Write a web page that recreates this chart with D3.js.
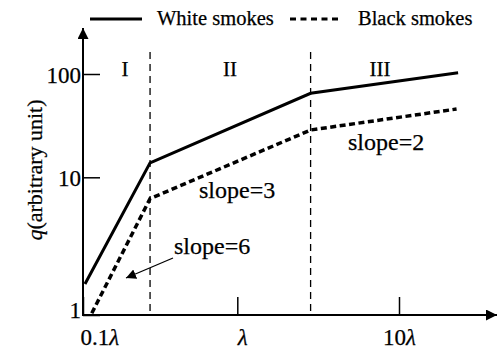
<!DOCTYPE html>
<html>
<head>
<meta charset="utf-8">
<script src="https://cdn.jsdelivr.net/npm/d3@7"></script>
<style>
  body { margin: 0; background: #fff; }
  svg text { font-family: "Liberation Serif", "Times New Roman", serif !important; stroke: #000; stroke-width: 0.25px; }
</style>
</head>
<body>
<svg id="chart" width="497" height="354"></svg>
<script>
// schematic log-log plot
var xWhite = [0.103, 0.272, 2.84, 23.2];
var qWhite = [1.68, 13.8, 65, 103];
var xBlack = [0.114, 0.272, 2.84, 22.7];
var qBlack = [1.03, 7.0, 28.7, 45.8];
var boundaries = [0.272, 2.84];
var regionNames = ["I", "II", "III"];
var xTicks = [0.1, 1, 10];
var xTickLabels = ["0.1", "", "10"];
var yTicks = [1, 10, 100];
var seriesNames = ["White smokes", "Black smokes"];

(function () {
  "use strict";

  var svg = d3.select("#chart");
  var ink = "#000";
  var serif = "'Liberation Serif', 'Times New Roman', serif";

  // piecewise log scales (the drawing is not evenly spaced per decade)
  var x = d3.scaleLog().domain([0.1, 1, 10]).range([83, 237.3, 399]);
  var y = d3.scaleLog().domain([1, 10, 100]).range([315, 177.3, 74]);

  var defs = svg.append("defs");
  defs.append("marker")
    .attr("id", "head").attr("viewBox", "0 0 10 10")
    .attr("refX", 10).attr("refY", 5)
    .attr("markerWidth", 10).attr("markerHeight", 10)
    .attr("markerUnits", "userSpaceOnUse")
    .attr("orient", "auto")
    .append("path").attr("d", "M0,0L10,5L0,10z").attr("fill", ink);
  defs.append("marker")
    .attr("id", "bigHead").attr("viewBox", "0 0 10 10")
    .attr("refX", 10).attr("refY", 5)
    .attr("markerWidth", 14).attr("markerHeight", 11)
    .attr("markerUnits", "userSpaceOnUse")
    .attr("orient", "auto")
    .append("path").attr("d", "M0,0L10,5L0,10z").attr("fill", ink);

  // region boundaries
  svg.selectAll(".bound").data(boundaries).enter().append("line")
    .attr("class", "bound")
    .attr("x1", function (d) { return x(d); }).attr("x2", function (d) { return x(d); })
    .attr("y1", 52).attr("y2", y(1))
    .attr("stroke", ink).attr("stroke-width", 1.3)
    .attr("stroke-dasharray", "7,5");

  // axes
  var yAxis = d3.axisLeft(y).tickValues(yTicks).tickSize(-17).tickPadding(2)
    .tickFormat(d3.format("d"));
  var gy = svg.append("g").attr("transform", "translate(" + x(0.1) + ",0)").call(yAxis)
    .attr("font-family", serif);
  gy.select(".domain").remove();
  gy.selectAll(".tick line").attr("stroke", ink).attr("stroke-width", 1.5);
  gy.selectAll(".tick text").attr("fill", ink).style("font-size", "23px")
    .attr("dy", function (d) { return d === 1 ? "0.1em" : "0.35em"; });

  var xAxis = d3.axisBottom(x).tickValues(xTicks).tickSize(-18).tickPadding(14)
    .tickFormat(function (d, i) { return xTickLabels[i]; });
  var gx = svg.append("g").attr("transform", "translate(0," + y(1) + ")").call(xAxis)
    .attr("font-family", serif);
  gx.select(".domain").remove();
  gx.selectAll(".tick line").attr("stroke", ink).attr("stroke-width", 1.5);
  gx.selectAll(".tick text").attr("fill", ink).style("font-size", "23px")
    .each(function (d, i) {
      d3.select(this).append("tspan").style("font-style", "italic").text("λ");
      if (i === 0) { d3.select(this).attr("text-anchor", "start").attr("x", -3); }
      if (i === 1) { d3.select(this).attr("x", 5); }
    });

  svg.append("line")
    .attr("x1", x(0.1)).attr("x2", x(0.1)).attr("y1", y(1) + 1).attr("y2", 28)
    .attr("stroke", ink).attr("stroke-width", 2).attr("marker-end", "url(#bigHead)");
  svg.append("line")
    .attr("x1", x(0.1) - 1).attr("x2", 497).attr("y1", y(1)).attr("y2", y(1))
    .attr("stroke", ink).attr("stroke-width", 2).attr("marker-end", "url(#bigHead)");

  // y label
  svg.append("text")
    .attr("transform", "translate(42,170) rotate(-90)")
    .attr("text-anchor", "middle").attr("fill", ink).style("font-size", "22px")
    .call(function (t) {
      t.append("tspan").style("font-style", "italic").text("q");
      t.append("tspan").text("(arbitrary unit)");
    });

  // series
  var line = d3.line()
    .x(function (d) { return x(d[0]); })
    .y(function (d) { return y(d[1]); });

  svg.append("path")
    .datum(d3.zip(xWhite, qWhite))
    .attr("d", line).attr("fill", "none")
    .attr("stroke", ink).attr("stroke-width", 3).attr("stroke-linejoin", "miter");
  svg.append("path")
    .datum(d3.zip(xBlack, qBlack))
    .attr("d", line).attr("fill", "none")
    .attr("stroke", ink).attr("stroke-width", 3.5).attr("stroke-dasharray", "6,3.5");

  // region names
  var regionX = [125, 230, 380];
  svg.selectAll(".region").data(regionNames).enter().append("text")
    .attr("class", "region")
    .attr("x", function (d, i) { return regionX[i]; }).attr("y", 76)
    .attr("text-anchor", "middle").attr("fill", ink).style("font-size", "21px")
    .text(function (d) { return d; });

  // slope notes
  var notes = [["slope=2", 348, 150], ["slope=3", 199, 198], ["slope=6", 174, 254]];
  svg.selectAll(".note").data(notes).enter().append("text")
    .attr("class", "note")
    .attr("x", function (d) { return d[1]; }).attr("y", function (d) { return d[2]; })
    .attr("fill", ink).style("font-size", "24px")
    .text(function (d) { return d[0]; });
  svg.append("line")
    .attr("x1", 173).attr("y1", 258).attr("x2", 126).attr("y2", 278)
    .attr("stroke", ink).attr("stroke-width", 1.3).attr("marker-end", "url(#head)");

  // legend
  var legend = svg.append("g");
  legend.append("line").attr("x1", 90).attr("x2", 142).attr("y1", 19).attr("y2", 19)
    .attr("stroke", ink).attr("stroke-width", 3);
  legend.append("line").attr("x1", 290).attr("x2", 342).attr("y1", 19).attr("y2", 19)
    .attr("stroke", ink).attr("stroke-width", 3).attr("stroke-dasharray", "6,4.5");
  legend.selectAll("text").data(seriesNames).enter().append("text")
    .attr("x", function (d, i) { return i === 0 ? 157 : 358; }).attr("y", 25)
    .attr("fill", ink).style("font-size", "20.5px")
    .text(function (d) { return d; });
})();
</script>
</body>
</html>
